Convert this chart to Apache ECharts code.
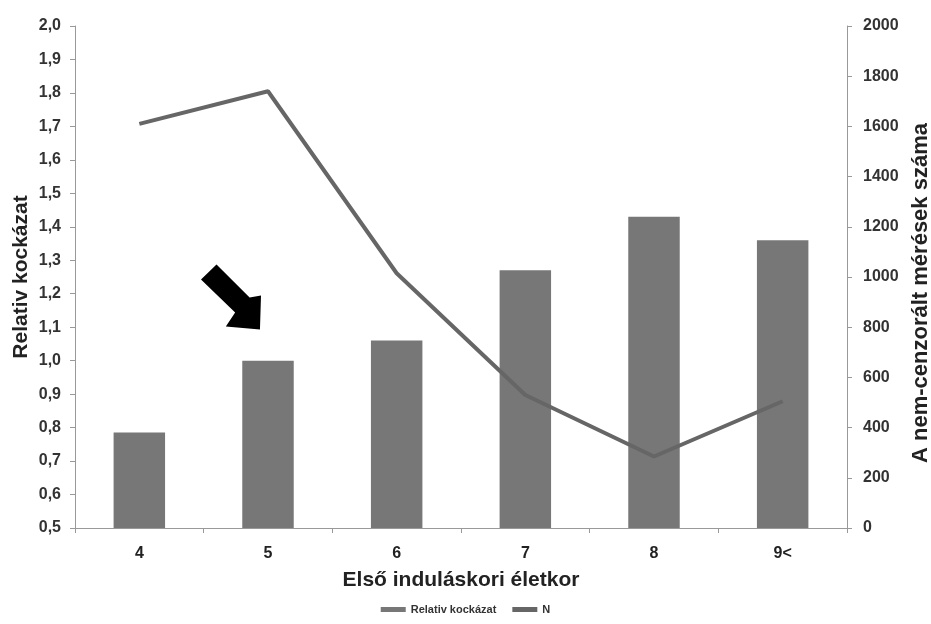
<!DOCTYPE html>
<html><head><meta charset="utf-8">
<script src="https://cdn.jsdelivr.net/npm/echarts@6/dist/echarts.min.js"></script>
<style>html,body{margin:0;padding:0;background:#fff}#c{width:931px;height:624px}</style>
</head><body><div id="c"></div>
<script>
const categories = ['4', '5', '6', '7', '8', '9<'];
const relativeRisk = [0.785, 1.0, 1.06, 1.27, 1.43, 1.36];
const nCounts = [1610, 1740, 1015, 530, 285, 505];
const leftTicks = {min: 0.5, max: 2.0, interval: 0.1};
const rightTicks = {min: 0, max: 2000, interval: 200};

const chart = echarts.init(document.getElementById('c'));
const font = 'Liberation Sans, Arial, sans-serif';
const arrowPath = 'path://M0,15 L15,0 L47,33 L58,31 L57,65 L24,62 L33,48 Z';
chart.setOption({
  animation: false,
  backgroundColor: '#fff',
  grid: {left: 75, right: 84, top: 26, bottom: 96, containLabel: false, outerBoundsMode: 'none'},
  legend: {
    bottom: 4, left: 'center',
    itemWidth: 25, itemHeight: 5, itemGap: 16,
    textStyle: {fontFamily: font, fontSize: 11, fontWeight: 'bold', color: '#333'},
    data: [{name: 'Relativ kockázat', icon: 'rect'}, {name: 'N', icon: 'rect', itemStyle: {color: '#666'}}]
  },
  xAxis: {
    type: 'category', data: categories,
    name: 'Első induláskori életkor', nameLocation: 'middle', nameGap: 42, nameMoveOverlap: false,
    nameTextStyle: {fontFamily: font, fontSize: 21, fontWeight: 'bold', color: '#222'},
    axisLine: {lineStyle: {color: '#999', width: 1}},
    axisTick: {show: true, alignWithLabel: false, length: 5, lineStyle: {color: '#999'}},
    axisLabel: {fontFamily: font, fontSize: 16, fontWeight: 'bold', color: '#222', margin: 18}
  },
  yAxis: [{
    type: 'value', min: leftTicks.min, max: leftTicks.max, interval: leftTicks.interval,
    name: 'Relativ kockázat', nameLocation: 'middle', nameGap: 43, nameRotate: 90, nameMoveOverlap: false,
    nameTextStyle: {fontFamily: font, fontSize: 21, fontWeight: 'bold', color: '#222'},
    axisLine: {show: true, lineStyle: {color: '#999'}},
    axisTick: {show: true, length: 5, lineStyle: {color: '#999'}},
    splitLine: {show: false},
    axisLabel: {fontFamily: font, fontSize: 16, fontWeight: 'bold', color: '#333', margin: 14,
      formatter: v => v.toFixed(1).replace('.', ',')}
  }, {
    type: 'value', min: rightTicks.min, max: rightTicks.max, interval: rightTicks.interval,
    position: 'right',
    name: 'A nem-cenzorált mérések száma', nameLocation: 'middle', nameGap: 63, nameRotate: 90, nameMoveOverlap: false,
    nameTextStyle: {fontFamily: font, fontSize: 22, fontWeight: 'bold', color: '#222', padding: [0, 32, 0, 0]},
    axisLine: {show: true, lineStyle: {color: '#999'}},
    axisTick: {show: true, length: 5, lineStyle: {color: '#999'}},
    splitLine: {show: false},
    axisLabel: {fontFamily: font, fontSize: 16, fontWeight: 'bold', color: '#333', margin: 16,
      formatter: v => String(v)}
  }],
  series: [{
    name: 'Relativ kockázat', type: 'bar', yAxisIndex: 0, data: relativeRisk,
    barWidth: '40%', itemStyle: {color: '#777'},
    markPoint: {
      silent: true,
      data: [{coord: ['5', 1.19], symbol: arrowPath, symbolSize: [60, 65], symbolKeepAspect: false,
        symbolOffset: [-37, 0], itemStyle: {color: '#000'}, label: {show: false}}]
    }
  }, {
    name: 'N', type: 'line', yAxisIndex: 1, data: nCounts,
    showSymbol: false, symbol: 'none', lineStyle: {color: '#666', width: 4}, itemStyle: {color: '#666'}
  }]
});
</script></body></html>
